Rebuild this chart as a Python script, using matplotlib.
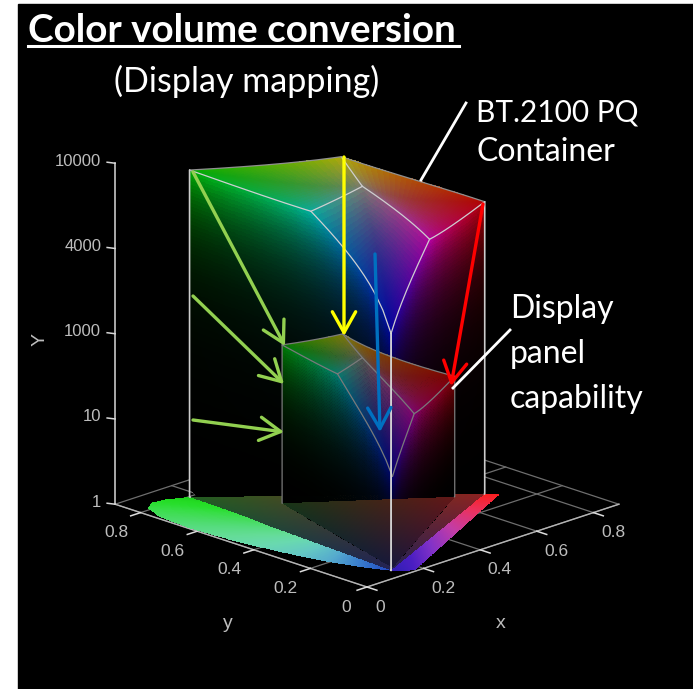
import numpy as np
import matplotlib
matplotlib.use("Agg")
import matplotlib.pyplot as plt
from matplotlib.patches import Rectangle

# ---------- data ----------
bt2020_xy = [(0.708, 0.292), (0.170, 0.797), (0.131, 0.046)]
bt709_xy = [(0.640, 0.330), (0.300, 0.600), (0.150, 0.060)]
white_xy = (0.3127, 0.3290)
container_peak = 10000.0
panel_peak = 90.0
y_tick_labels = ["1", "10", "1000", "4000", "10000"]
y_tick_levels = [0.0, 0.25, 0.5, 0.75, 1.0]
floor_ticks = [0.0, 0.2, 0.4, 0.6, 0.8]
floor_tick_labels = ["0", "0.2", "0.4", "0.6", "0.8"]
floor_limit = 0.89
left_nudge = [-5, -9, -9, -9, -9]
right_nudge = [-2, 4, 4, 4, 4]

locus_gb = [(.1547, .8059), (.1142, .8262), (.0743, .8338), (.0389, .8120), (.0139, .7502),
            (.0039, .6548), (.0082, .5384), (.0235, .4127), (.0454, .2950), (.0687, .2007),
            (.0913, .1327), (.1096, .0868), (.1241, .0578)]
locus_gb_colors = [(30, 205, 30), (35, 220, 35), (40, 222, 45), (55, 222, 70), (70, 220, 95),
                   (85, 220, 125), (100, 220, 150), (105, 217, 175), (100, 200, 195),
                   (85, 170, 205), (60, 130, 205), (45, 100, 200), (35, 70, 190)]
locus_rb = [(.7347, .2653), (.60, .2030), (.45, .1330), (.30, .0640), (.1741, .0050), (.1440, .0297)]
locus_rb_colors = [(250, 30, 30), (235, 50, 95), (195, 60, 165), (130, 50, 200), (75, 30, 195), (50, 30, 180)]

title_text = "Color volume conversion"
subtitle_text = "(Display mapping)"
arrows = [  # (tail, head, colour)
    ((193, 172), (285, 346), "#92D050"),
    ((193, 296), (284, 384), "#92D050"),
    ((193, 420), (284, 432), "#92D050"),
    ((344, 157), (344, 336), "#FFFF00"),
    ((483, 204), (451, 386), "#FF0000"),
    ((375, 254), (380, 432), "#0070C0"),
]
leaders = [((421, 180), (466, 103)), ((453, 388), (510, 330))]

# ---------- projection ----------
CX, CY, SX, SY, H = 367.0, 587.0, 283.0, 93.0, 341.0


def project(x, y, h=0.0):
    x, y, h = np.asarray(x, float), np.asarray(y, float), np.asarray(h, float)
    return CX + SX * (x - y), CY - SY * (x + y) - H * h


def pq(lum):
    m1, m2, c1, c2, c3 = 0.1593017578125, 78.84375, 0.8359375, 18.8515625, 18.6875
    p = np.power(np.clip(lum, 0, None), m1)
    return np.power((c1 + c2 * p) / (1 + c3 * p), m2)


def rgb_matrix(prim):
    xyz = np.array([[x / y, 1.0, (1 - x - y) / y] for x, y in prim]).T
    wx, wy = white_xy
    w = np.array([wx / wy, 1.0, (1 - wx - wy) / wy])
    return xyz * np.linalg.solve(xyz, w)


def to_screen(rgb, matrix, peak):
    xyz = np.tensordot(matrix, rgb, axes=(1, 0))
    total = xyz.sum(axis=0) + 1e-20
    return project(xyz[0] / total, xyz[1] / total, pq(xyz[1] * peak / 10000.0))


def display(rgb, gain, exponent=0.72, tint=(1.0, 0.97, 0.88), desat=0.3):
    col = [np.power(np.clip(c, 0, 1), exponent) for c in rgb]
    low = np.minimum(np.minimum(col[0], col[1]), col[2])
    col = [np.clip(gain * t * (c - desat * low), 0, 1) for c, t in zip(col, tint)]
    return np.stack(col, axis=-1)


fig = plt.figure(figsize=(6.93, 6.89), dpi=100, facecolor="white")
ax = fig.add_axes([0, 0, 1, 1])
ax.set_xlim(0, 693)
ax.set_ylim(689, 0)
ax.axis("off")
ax.add_patch(Rectangle((18, 4), 675, 685, color="black", zorder=0))


def face(matrix, peak, fixed_axis, fixed_val, gain, alpha, z, n=190):
    t = np.geomspace(1e-8, 1, n)
    a, b = np.meshgrid(t, t, indexing="ij")
    others = [i for i in range(3) if i != fixed_axis]
    rgb = [None] * 3
    rgb[fixed_axis] = np.full_like(a, fixed_val)
    rgb[others[0]], rgb[others[1]] = a, b
    rgb = np.array(rgb)
    X, Y = to_screen(rgb, matrix, peak)
    mid = 0.25 * (rgb[:, :-1, :-1] + rgb[:, 1:, :-1] + rgb[:, :-1, 1:] + rgb[:, 1:, 1:])
    col = display(mid, gain)
    col = np.dstack([col, np.full(col.shape[:2], alpha)])
    ax.pcolormesh(X, Y, col, shading="flat", antialiased=False, linewidth=0, zorder=z)


def cube_edge(matrix, peak, start, end, **kw):
    s, e = np.array(start, float), np.array(end, float)
    if np.count_nonzero(s) == 0:
        t = np.geomspace(1e-10, 1, 160)
        rgb = e[:, None] * t + 1e-13
    else:
        t = np.r_[0.0, np.geomspace(1e-4, 1, 140)]
        rgb = s[:, None] + (e - s)[:, None] * t
    X, Y = to_screen(rgb, matrix, peak)
    ax.plot(X, Y, solid_capstyle="round", **kw)


M2020, M709 = rgb_matrix(bt2020_xy), rgb_matrix(bt709_xy)
K, R_, G_, B_ = (0, 0, 0), (1, 0, 0), (0, 1, 0), (0, 0, 1)
Y_, C_, M_, W_ = (1, 1, 0), (0, 1, 1), (1, 0, 1), (1, 1, 1)

# ---------- floor grid ----------
for v in floor_ticks + [floor_limit]:
    xs, ys = project([v, v], [0, floor_limit])
    ax.plot(xs, ys, color="#6e6e6e", lw=0.9, zorder=1)
    xs, ys = project([0, floor_limit], [v, v])
    ax.plot(xs, ys, color="#6e6e6e", lw=0.9, zorder=1)
for xy in ([(0, 0), (0, floor_limit)], [(0, 0), (floor_limit, 0)]):
    xs, ys = project(*zip(*xy))
    ax.plot(xs, ys, color="#b4b4b4", lw=1.0, zorder=1.1)
for v, lab, ln, rn in zip(floor_ticks, floor_tick_labels, left_nudge, right_nudge):
    xs, ys = project([0, -0.035], [v, v])
    ax.plot(xs, ys, color="#dddddd", lw=1.1, zorder=1.2)
    xs, ys = project([v, v], [0, -0.035])
    ax.plot(xs, ys, color="#dddddd", lw=1.1, zorder=1.2)
    px, py = project(-0.055, v)
    ax.text(px + ln, py + 15, lab, color="#bdbdbd", fontsize=12.5, family="Liberation Sans",
            ha="center", va="center", zorder=9)
    px, py = project(v, -0.055)
    ax.text(px + rn, py + 15, lab, color="#bdbdbd", fontsize=12.5, family="Liberation Sans",
            ha="center", va="center", zorder=9)

# ---------- vertical axis ----------
cx, cy = project(0, floor_limit)
ax.plot([cx, cx], [cy, cy - H], color="#d8d8d8", lw=1.1, zorder=1.2)
for lev, lab in zip(y_tick_levels, y_tick_labels):
    ax.plot([cx - 8, cx], [cy - H * lev - 1, cy - H * lev], color="#d8d8d8", lw=1.1, zorder=1.2)
    ax.text(cx - 14, cy - H * lev - 2, lab, color="#bdbdbd", fontsize=12, family="Liberation Sans",
            ha="right", va="center", zorder=9)
ax.text(40, 339, "Y", color="#bdbdbd", fontsize=14, family="Liberation Sans", rotation=90,
        ha="center", va="center", zorder=9)
ax.text(228, 624, "y", color="#bdbdbd", fontsize=14, family="Liberation Sans", ha="center", va="center")
ax.text(501, 623, "x", color="#bdbdbd", fontsize=14, family="Liberation Sans", ha="center", va="center")

# ---------- container volume ----------
for axis, val in [(0, 0.0), (1, 0.0), (2, 1.0), (1, 1.0), (0, 1.0)]:
    face(M2020, container_peak, axis, val, 0.70, 1.0, 2)


# ---------- floor footprint ----------
def floor_tri(prim, base, gains, alpha, z, n=120):
    s = np.linspace(0, 1, n)
    t = np.linspace(0, 1, n)
    ss, tt = np.meshgrid(s, t, indexing="ij")
    r, g, b = np.array(prim)
    xy = b[:, None, None] + ss * ((1 - tt) * g[:, None, None] + tt * r[:, None, None] - b[:, None, None])
    X, Y = project(xy[0], xy[1])
    sm, tm = 0.5 * (s[1:] + s[:-1]), 0.5 * (t[1:] + t[:-1])
    ssm, ttm = np.meshgrid(sm, tm, indexing="ij")
    wb, wg, wr = 1 - ssm, ssm * (1 - ttm), ssm * ttm
    col = np.stack([base + gains[0] * wr, base + gains[1] * wg, base + gains[2] * wb,
                    np.full_like(wr, alpha)], axis=-1)
    ax.pcolormesh(X, Y, col, shading="flat", antialiased=False, linewidth=0, zorder=z)


def band(outer, outer_cols, a, b, z, n=240):
    outer = np.array(outer)
    cols = np.array(outer_cols) / 255.0
    idx = np.linspace(0, len(outer) - 1, n)
    base = np.arange(len(outer))
    ox = np.interp(idx, base, outer[:, 0])
    oy = np.interp(idx, base, outer[:, 1])
    f = idx / idx.max()
    ix = a[0] + f * (b[0] - a[0])
    iy = a[1] + f * (b[1] - a[1])
    w = np.linspace(0, 1, 9)
    X0, Y0 = project(ix, iy)
    X1, Y1 = project(ox, oy)
    X = np.outer(X0, 1 - w) + np.outer(X1, w)
    Y = np.outer(Y0, 1 - w) + np.outer(Y1, w)
    ci = idx[:-1] + 0.5 * (idx[1] - idx[0])
    c = np.stack([np.interp(ci, base, cols[:, k]) for k in range(3)] + [np.ones_like(ci)], axis=-1)
    col = np.repeat(c[:, None, :], len(w) - 1, axis=1)
    ax.pcolormesh(X, Y, col, shading="flat", antialiased=False, linewidth=0, zorder=z)


floor_tri(bt2020_xy, 0.13, (0.42, 0.24, 0.20), 1.0, 3)
band(locus_gb, locus_gb_colors, bt2020_xy[1], bt2020_xy[2], 3.2)
band(locus_rb, locus_rb_colors, bt2020_xy[0], bt2020_xy[2], 3.2)

# ---------- container edges ----------
edge_kw = dict(color="#cfcfcf", lw=0.9, zorder=4)
for a, b in [(G_, C_), (C_, W_), (C_, B_), (W_, Y_), (W_, M_), (M_, R_), (M_, B_)]:
    cube_edge(M2020, container_peak, a, b, **edge_kw)
for a, b in [(G_, Y_), (Y_, R_)]:
    cube_edge(M2020, container_peak, a, b, color="#8f8f8f", lw=0.9, zorder=4)
for e in (G_, R_):
    cube_edge(M2020, container_peak, K, e, color="#cccccc", lw=1.2, zorder=4)

# ---------- panel volume ----------
for axis, val in [(0, 0.0), (1, 0.0), (2, 1.0), (1, 1.0), (0, 1.0)]:
    face(M709, panel_peak, axis, val, 0.50, 0.93, 5)
floor_tri(bt709_xy, 0.09, (0.30, 0.12, 0.14), 1.0, 5.2)
panel_kw = dict(color="#7a7a7a", lw=0.9, zorder=6)
for a, b in [(G_, C_), (C_, W_), (C_, B_), (W_, Y_), (W_, M_), (M_, R_), (M_, B_), (G_, Y_), (Y_, R_), (K, G_), (K, R_)]:
    cube_edge(M709, panel_peak, a, b, **panel_kw)
cube_edge(M2020, container_peak, K, B_, color="#d8d8d8", lw=1.3, zorder=6.5)

# ---------- annotations ----------
for tail, head, colour in arrows:
    ax.annotate("", xy=head, xytext=tail, zorder=8,
                arrowprops=dict(arrowstyle="->,head_length=0.75,head_width=0.42", color=colour, lw=2.4,
                                shrinkA=0, shrinkB=0, mutation_scale=20))
for a, b in leaders:
    ax.plot([a[0], b[0]], [a[1], b[1]], color="white", lw=2.0, zorder=8)

ax.text(28, 31, title_text, color="white", fontsize=27.8, fontweight="bold", family="Lato", ha="left", va="center", zorder=10)
ax.plot([28, 459], [46, 46], color="white", lw=2.2, zorder=10)
ax.text(247, 81, subtitle_text, color="white", fontsize=24.5, family="Lato", ha="center", va="center", zorder=10)
for txt, x, y, size in [("BT.2100 PQ", 476, 112, 21.5), ("Container", 476, 152, 23), ("Display", 510, 309, 23),
                        ("panel", 510, 354, 23), ("capability", 510, 399, 23)]:
    ax.text(x, y, txt, color="white", fontsize=size, family="Lato", ha="left", va="center", zorder=10)

fig.savefig("out.png", dpi=100, facecolor="white")
